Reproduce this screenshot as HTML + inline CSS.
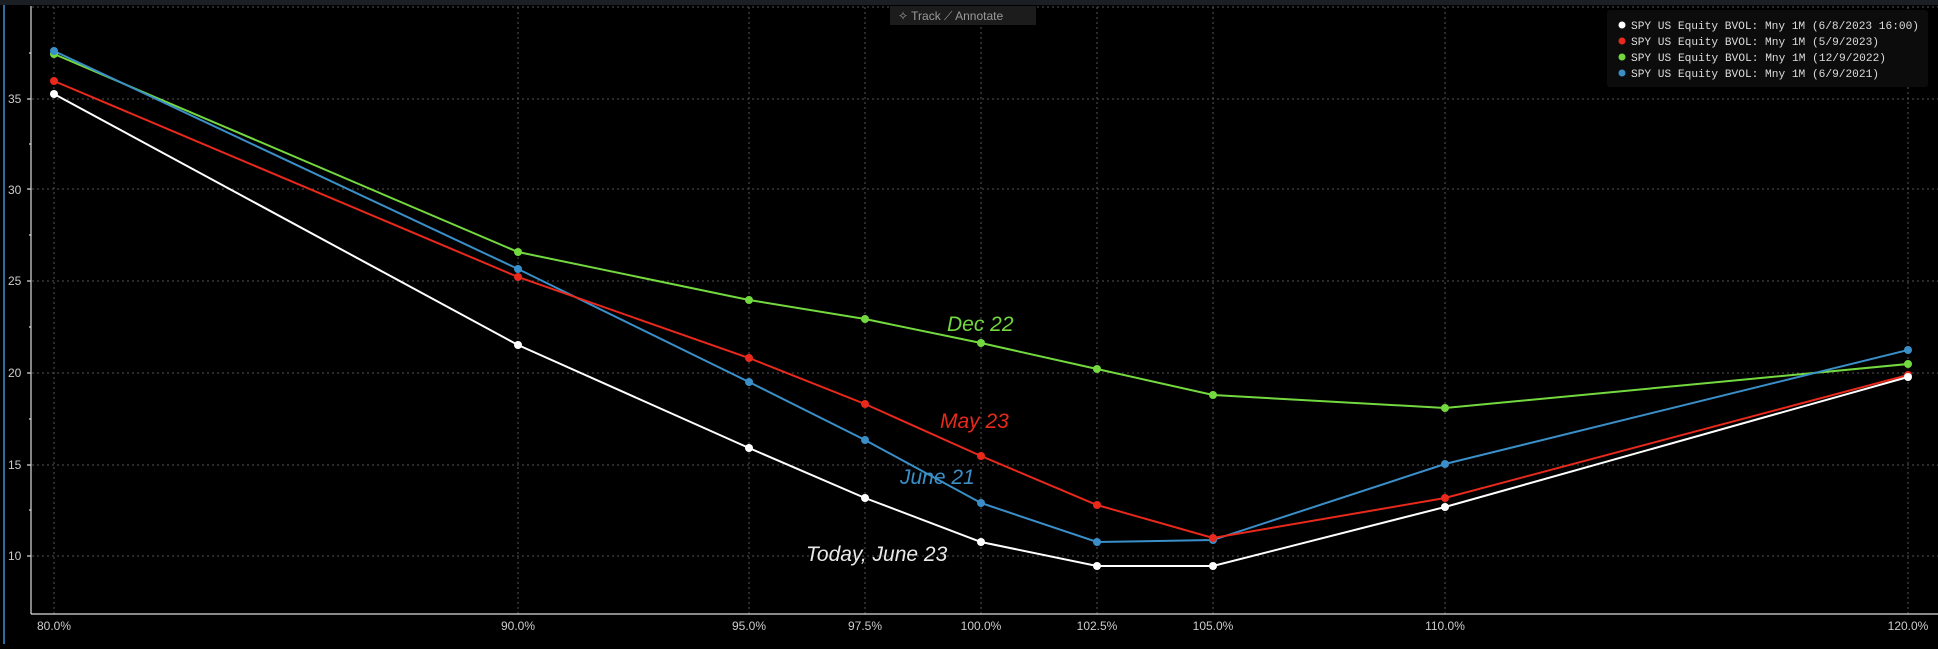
<!DOCTYPE html>
<html><head><meta charset="utf-8"><style>
body{margin:0;background:#000;width:1938px;height:644px;overflow:hidden;font-family:"Liberation Sans",sans-serif}
</style></head><body>
<svg width="1938" height="644" xmlns="http://www.w3.org/2000/svg">
<rect x="0" y="0" width="1938" height="644" fill="#000"/>
<rect x="0" y="0" width="1938" height="5" fill="#1b1e23"/>
<line x1="4" y1="5" x2="4" y2="644" stroke="#3a8fd0" stroke-width="1.5"/>
<g stroke="#555" stroke-dasharray="2,3" stroke-width="1">
<line x1="32" y1="7" x2="1938" y2="7"/>
<line x1="32" y1="99" x2="1938" y2="99"/>
<line x1="32" y1="189" x2="1938" y2="189"/>
<line x1="32" y1="281" x2="1938" y2="281"/>
<line x1="32" y1="373" x2="1938" y2="373"/>
<line x1="32" y1="465" x2="1938" y2="465"/>
<line x1="32" y1="556" x2="1938" y2="556"/>
<line x1="54" y1="7" x2="54" y2="614"/><line x1="518" y1="7" x2="518" y2="614"/><line x1="749" y1="7" x2="749" y2="614"/><line x1="865" y1="7" x2="865" y2="614"/><line x1="981" y1="7" x2="981" y2="614"/><line x1="1097" y1="7" x2="1097" y2="614"/><line x1="1213" y1="7" x2="1213" y2="614"/><line x1="1445" y1="7" x2="1445" y2="614"/><line x1="1908" y1="7" x2="1908" y2="614"/>
</g>
<g stroke="#ddd" stroke-width="1.2">
<line x1="31" y1="6" x2="31" y2="614"/><line x1="31" y1="614" x2="1938" y2="614"/>
<line x1="27" y1="99" x2="31" y2="99"/><line x1="27" y1="189" x2="31" y2="189"/><line x1="27" y1="281" x2="31" y2="281"/><line x1="27" y1="373" x2="31" y2="373"/><line x1="27" y1="465" x2="31" y2="465"/><line x1="27" y1="556" x2="31" y2="556"/>
<line x1="29" y1="53" x2="31" y2="53"/><line x1="29" y1="144" x2="31" y2="144"/><line x1="29" y1="235" x2="31" y2="235"/><line x1="29" y1="327" x2="31" y2="327"/><line x1="29" y1="419" x2="31" y2="419"/><line x1="29" y1="510" x2="31" y2="510"/>
</g>
<g fill="#ccc" font-size="12" font-family="Liberation Sans Narrow, Liberation Sans, sans-serif">
<text x="8" y="103">35</text><text x="8" y="194">30</text><text x="8" y="285">25</text><text x="8" y="377">20</text><text x="8" y="469">15</text><text x="8" y="560">10</text>
<g text-anchor="middle"><text x="54" y="630">80.0%</text><text x="518" y="630">90.0%</text><text x="749" y="630">95.0%</text><text x="865" y="630">97.5%</text><text x="981" y="630">100.0%</text><text x="1097" y="630">102.5%</text><text x="1213" y="630">105.0%</text><text x="1445" y="630">110.0%</text><text x="1908" y="630">120.0%</text></g>
</g>
<rect x="890" y="6" width="146" height="19" fill="#1c1c1c"/>
<text x="898" y="20" fill="#999" font-size="12">✧ Track  ⟋ Annotate</text>
<g fill="none" stroke-width="2">
<polyline stroke="#73d93f" points="54,54 518,252 749,300 865,319 981,343 1097,369 1213,395 1445,408 1908,364"/>
<polyline stroke="#3a8fc8" points="54,51 518,269 749,382 865,440 981,503 1097,542 1213,540 1445,464 1908,350"/>
<polyline stroke="#e8291c" points="54,81 518,277 749,358 865,404 981,456 1097,505 1213,538 1445,498 1908,375"/>
<polyline stroke="#fff" points="54,94 518,345 749,448 865,498 981,542 1097,566 1213,566 1445,507 1908,377"/>
</g>
<g fill="#73d93f"><circle cx="54" cy="54" r="4"/><circle cx="518" cy="252" r="4"/><circle cx="749" cy="300" r="4"/><circle cx="865" cy="319" r="4"/><circle cx="981" cy="343" r="4"/><circle cx="1097" cy="369" r="4"/><circle cx="1213" cy="395" r="4"/><circle cx="1445" cy="408" r="4"/><circle cx="1908" cy="364" r="4"/></g>
<g fill="#3a8fc8"><circle cx="54" cy="51" r="4"/><circle cx="518" cy="269" r="4"/><circle cx="749" cy="382" r="4"/><circle cx="865" cy="440" r="4"/><circle cx="981" cy="503" r="4"/><circle cx="1097" cy="542" r="4"/><circle cx="1213" cy="540" r="4"/><circle cx="1445" cy="464" r="4"/><circle cx="1908" cy="350" r="4"/></g>
<g fill="#e8291c"><circle cx="54" cy="81" r="4"/><circle cx="518" cy="277" r="4"/><circle cx="749" cy="358" r="4"/><circle cx="865" cy="404" r="4"/><circle cx="981" cy="456" r="4"/><circle cx="1097" cy="505" r="4"/><circle cx="1213" cy="538" r="4"/><circle cx="1445" cy="498" r="4"/><circle cx="1908" cy="375" r="4"/></g>
<g fill="#fff"><circle cx="54" cy="94" r="4"/><circle cx="518" cy="345" r="4"/><circle cx="749" cy="448" r="4"/><circle cx="865" cy="498" r="4"/><circle cx="981" cy="542" r="4"/><circle cx="1097" cy="566" r="4"/><circle cx="1213" cy="566" r="4"/><circle cx="1445" cy="507" r="4"/><circle cx="1908" cy="377" r="4"/></g>
<g font-style="italic" font-size="21">
<text x="947" y="331" fill="#73d93f">Dec 22</text>
<text x="940" y="428" fill="#e8291c">May 23</text>
<text x="900" y="484" fill="#3a8fc8">June 21</text>
<text x="806" y="561" fill="#e8e8e8">Today, June 23</text>
</g>
<rect x="1607" y="10" width="321" height="77" rx="3" fill="#0c0c0c"/>
<g font-family="Liberation Mono, monospace" font-size="11.2" fill="#ddd">
<circle cx="1622" cy="25" r="3.5" fill="#fff"/><text x="1631" y="29" textLength="288">SPY US Equity BVOL: Mny 1M (6/8/2023 16:00)</text>
<circle cx="1622" cy="41" r="3.5" fill="#e8291c"/><text x="1631" y="45" textLength="248">SPY US Equity BVOL: Mny 1M (5/9/2023)</text>
<circle cx="1622" cy="57" r="3.5" fill="#73d93f"/><text x="1631" y="61" textLength="255">SPY US Equity BVOL: Mny 1M (12/9/2022)</text>
<circle cx="1622" cy="73" r="3.5" fill="#3a8fc8"/><text x="1631" y="77" textLength="248">SPY US Equity BVOL: Mny 1M (6/9/2021)</text>
</g>
</svg>
</body></html>
